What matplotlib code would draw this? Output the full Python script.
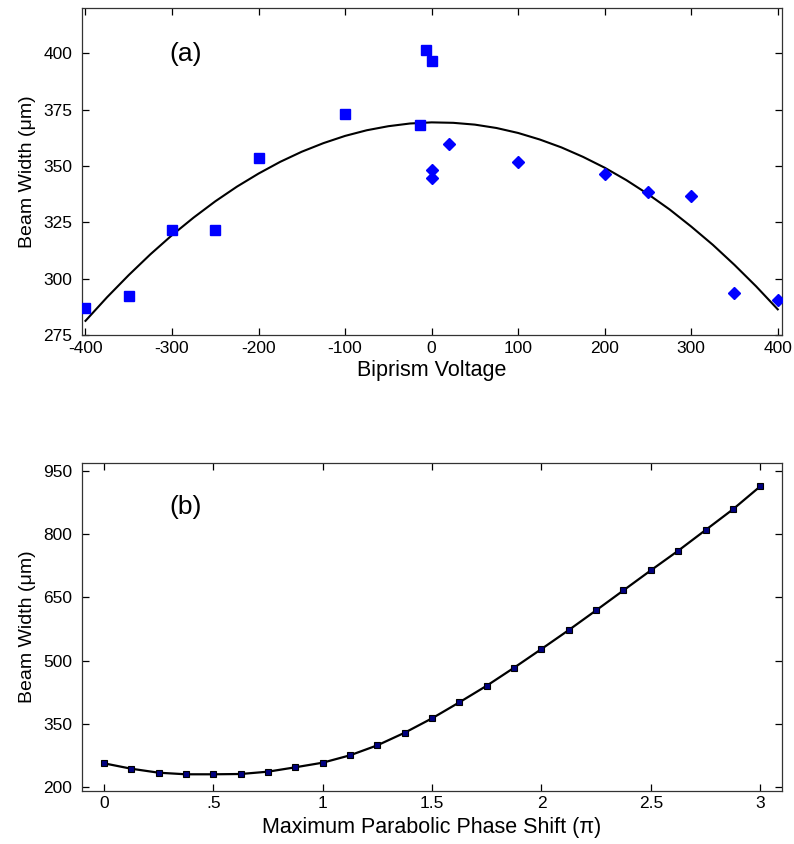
import numpy as np
import matplotlib
matplotlib.use('Agg')
import matplotlib.pyplot as plt
from matplotlib.ticker import FuncFormatter

plt.rcParams.update({
    'font.family': 'Liberation Sans',
    'font.size': 12,
    'axes.unicode_minus': False,
    'xtick.direction': 'in',
    'ytick.direction': 'in',
    'xtick.top': True,
    'ytick.right': True,
    'axes.linewidth': 0.9,
    'axes.edgecolor': '#333333',
})

# panel (a): biprism voltage scan
volt_sq  = [-400, -350, -300, -250, -200, -100, -14, -7, 0]
width_sq = [287.2, 292.3, 321.8, 321.8, 353.5, 373.1, 368.1, 401.5, 396.5]
volt_di  = [0, 0, 20, 100, 200, 250, 300, 350, 400]
width_di = [348.4, 344.7, 359.9, 351.6, 346.6, 338.3, 336.5, 293.8, 290.4]
# fitted curve, every 25 V
fit_volt  = [-400, -375, -350, -325, -300, -275, -250, -225, -200, -175,
             -150, -125, -100, -75, -50, -25, 0, 25, 50, 75, 100, 125,
             150, 175, 200, 225, 250, 275, 300, 325, 350, 375, 400]
fit_width = [281.3, 291.8, 301.6, 310.8, 319.3, 327.1, 334.3, 340.8, 346.6,
             351.8, 356.3, 360.1, 363.3, 365.8, 367.6, 368.8, 369.3, 369.1,
             368.3, 366.8, 364.6, 361.7, 358.2, 354.0, 349.2, 343.7, 337.5,
             330.7, 323.1, 315.0, 306.1, 296.6, 286.4]

# panel (b): phase shift scan
phase = [0, 0.125, 0.25, 0.375, 0.5, 0.625, 0.75, 0.875, 1.0, 1.125, 1.25,
         1.375, 1.5, 1.625, 1.75, 1.875, 2.0, 2.125, 2.25, 2.375, 2.5,
         2.625, 2.75, 2.875, 3.0]
width_b = [256.9, 244.0, 234.6, 230.8, 230.8, 231.5, 237.0, 247.4, 258.3,
           275.8, 299.5, 329.4, 363.5, 401.5, 440.8, 483.5, 527.8, 572.8,
           619.5, 666.9, 714.3, 760.8, 809.8, 858.9, 913.4]

BLUE = '#0000FF'

fig = plt.figure(figsize=(7.94, 8.44), dpi=100)
ax1 = fig.add_axes([0.1033, 0.603, 0.8817, 0.3875])
ax2 = fig.add_axes([0.1033, 0.0632, 0.8817, 0.3878])

# (a)
ax1.plot(fit_volt, fit_width, color='black', lw=1.5, zorder=2)
ax1.plot(volt_sq, width_sq, 's', color=BLUE, ms=7.5, mec=BLUE, zorder=3)
ax1.plot(volt_di, width_di, 'D', color=BLUE, ms=6, mec=BLUE, zorder=3)
ax1.set_xlim(-404, 405)
ax1.set_ylim(275, 420)
ax1.set_xticks(range(-400, 401, 100))
ax1.set_yticks(range(275, 401, 25))
ax1.set_xlabel('Biprism Voltage', fontsize=15.5, labelpad=3)
ax1.set_ylabel('Beam Width (\u03bcm)', fontsize=14, labelpad=5)
ax1.text(0.125, 0.86, '(a)', transform=ax1.transAxes, fontsize=19, va='center')

# (b)
ax2.plot(phase, width_b, '-', color='black', lw=1.6, zorder=2)
ax2.plot(phase, width_b, 's', color='#000080', ms=4, mec='black', mew=0.8, zorder=3)
ax2.set_xlim(-0.1, 3.1)
ax2.set_ylim(192, 968)
ax2.set_xticks([0, 0.5, 1, 1.5, 2, 2.5, 3])
ax2.xaxis.set_major_formatter(FuncFormatter(
    lambda v, p: {0: '0', 0.5: '.5', 1: '1', 1.5: '1.5', 2: '2', 2.5: '2.5', 3: '3'}.get(v, '')))
ax2.set_yticks(range(200, 951, 150))
ax2.set_xlabel('Maximum Parabolic Phase Shift (\u03c0)', fontsize=15.5, labelpad=4)
ax2.set_ylabel('Beam Width (\u03bcm)', fontsize=14, labelpad=5)
ax2.text(0.125, 0.867, '(b)', transform=ax2.transAxes, fontsize=19, va='center')

for ax in (ax1, ax2):
    ax.tick_params(length=5, width=0.9, labelsize=12.5)
    ax.tick_params(axis='x', pad=4)
    ax.tick_params(axis='y', pad=7)

fig.savefig('out.png', dpi=100)
